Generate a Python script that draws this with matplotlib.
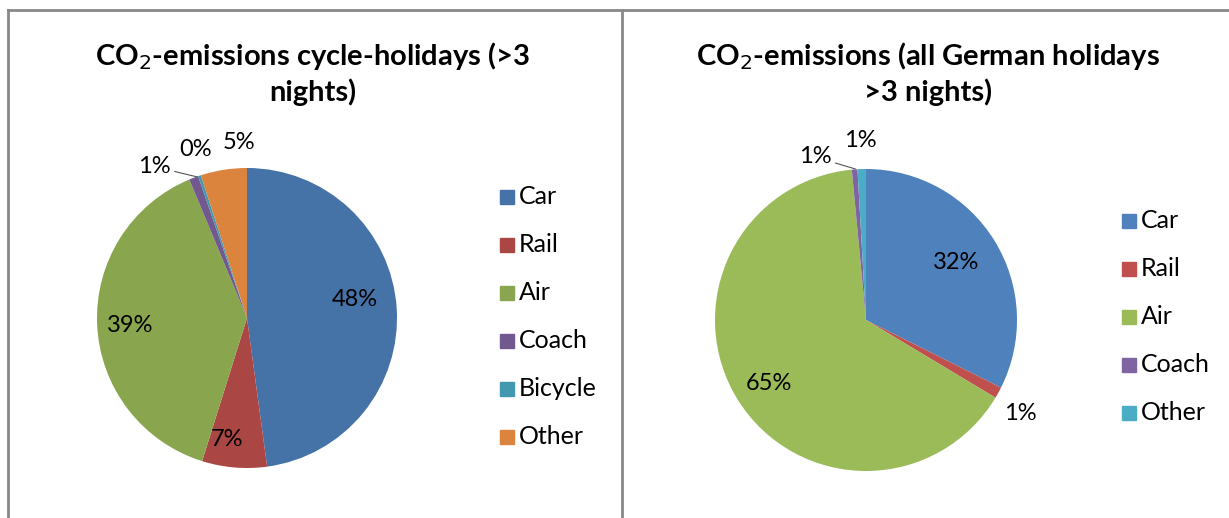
import numpy as np
import matplotlib.pyplot as plt
from matplotlib.lines import Line2D

plt.rcParams['font.family'] = ['Lato', 'DejaVu Sans']

# Datos - grafico izquierdo (vacaciones en bici)
cats_left = ['Car', 'Rail', 'Air', 'Coach', 'Bicycle', 'Other']
vals_left = [48, 7, 39, 1, 0.3, 5]
cols_left = ['#4572A7', '#AA4643', '#89A54E', '#71588F', '#4198AF', '#DB843D']
title_left = 'CO$_2$-emissions cycle-holidays (>3\nnights)'

# Datos - grafico derecho (todas las vacaciones alemanas)
cats_right = ['Car', 'Rail', 'Air', 'Coach', 'Other']
vals_right = [32.4, 1.2, 64.9, 0.6, 0.9]
cols_right = ['#4F81BD', '#C0504D', '#9BBB59', '#8064A2', '#4BACC6']
title_right = 'CO$_2$-emissions (all German holidays\n>3 nights)'

# posiciones de etiquetas (unidades del radio)
pos_left = [(0.72, 0.12), (-0.13, -0.81), (-0.78, -0.05), (-0.65, 1.04), (-0.34, 1.12), (-0.05, 1.17)]
pos_right = [(0.60, 0.38), (1.02, -0.62), (-0.64, -0.42), (-0.37, 1.11), (-0.04, 1.19)]
leader_left = {3: (-0.33, 0.94)}
leader_right = {3: (-0.07, 1.0)}

W, H = 1229, 518
fig = plt.figure(figsize=(W / 100, H / 100), dpi=100)

# marco gris
fig.add_artist(Line2D([8 / W, 1], [1 - 10 / H] * 2, color='#888888', lw=2))
fig.add_artist(Line2D([8 / W] * 2, [0, 1 - 10 / H], color='#888888', lw=2))
fig.add_artist(Line2D([622 / W] * 2, [0, 1 - 10 / H], color='#888888', lw=2))


def dibujar(cx, cy, r, vals, cols, cats, title, tx, pos, leaders, leg_x, leg_y0):
    ax = fig.add_axes([(cx - r) / W, (H - cy - r) / H, 2 * r / W, 2 * r / H])
    ax.pie(vals, colors=cols, startangle=90, counterclock=False,
           wedgeprops=dict(linewidth=0))
    ax.set_xlim(-1, 1)
    ax.set_ylim(-1, 1)
    ax.set_aspect('equal')
    ax.axis('off')
    for i, v in enumerate(vals):
        x, y = pos[i]
        if i in leaders:
            ax.annotate(f'{v:.0f}%', xy=leaders[i], xytext=(x + 0.14, y - 0.03),
                        ha='right', va='center', fontsize=17,
                        arrowprops=dict(arrowstyle='-', color='#555555', lw=0.8,
                                        shrinkA=1, shrinkB=0))
        else:
            ax.text(x, y, f'{v:.0f}%', ha='center', va='center', fontsize=17)
    fig.text(tx / W, 1 - 73 / H, title, ha='center', va='center', fontsize=21,
             fontweight='bold', linespacing=1.3)
    for i, c in enumerate(cats):
        yy = 1 - (leg_y0 + 48 * i) / H
        fig.patches.append(plt.Rectangle((leg_x / W, yy - 7 / H), 14 / W, 14 / H,
                                         transform=fig.transFigure, color=cols[i]))
        fig.text((leg_x + 19) / W, yy, c, ha='left', va='center', fontsize=18)


dibujar(247, 318, 150, vals_left, cols_left, cats_left, title_left, 313,
        pos_left, leader_left, 500, 197)
dibujar(866, 320, 151, vals_right, cols_right, cats_right, title_right, 928,
        pos_right, leader_right, 1122, 221)

plt.savefig('out.png', dpi=100)
plt.close()
